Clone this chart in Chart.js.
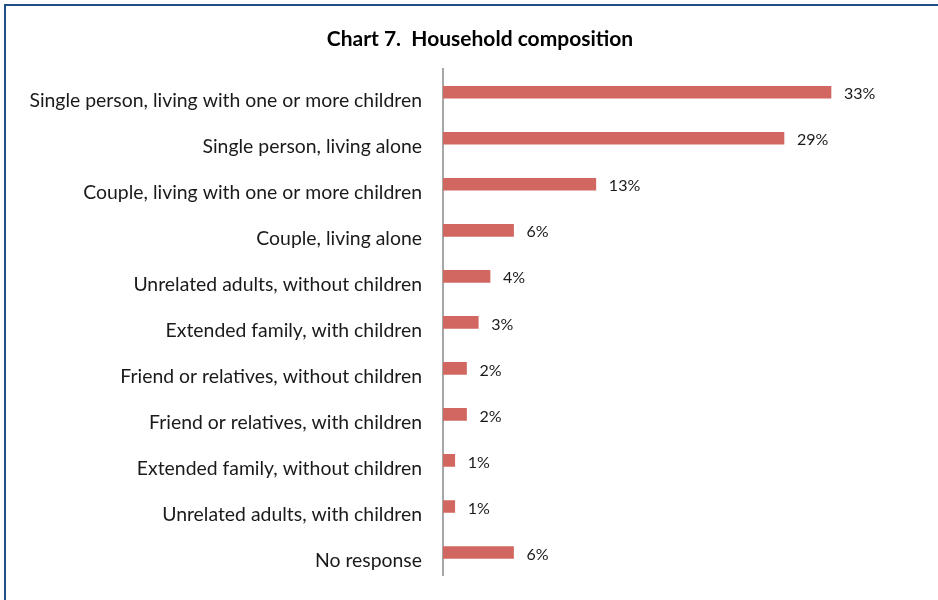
<!DOCTYPE html>
<html>
<head>
<meta charset="utf-8">
<script src="https://cdn.jsdelivr.net/npm/chart.js@4.4.1/dist/chart.umd.min.js"></script>
<style>
  html, body { margin: 0; padding: 0; background: #fff; overflow: hidden; width: 938px; height: 600px; }
  #topRule { position: absolute; left: 4px; top: 4px; width: 934px; height: 2px; background: #1f4e88; }
  #leftRule { position: absolute; left: 4px; top: 4px; width: 2px; height: 596px; background: #1f4e88; }
  #wrap { position: absolute; left: 0; top: 0; width: 938px; height: 600px; }
</style>
</head>
<body>
<div id="topRule"></div>
<div id="leftRule"></div>
<div id="wrap"><canvas id="householdChart"></canvas></div>
<script>
const categories = [
  'Single person, living with one or more children',
  'Single person, living alone',
  'Couple, living with one or more children',
  'Couple, living alone',
  'Unrelated adults, without children',
  'Extended family, with children',
  'Friend or relatives, without children',
  'Friend or relatives, with children',
  'Extended family, without children',
  'Unrelated adults, with children',
  'No response'
];
const shares = [33, 29, 13, 6, 4, 3, 2, 2, 1, 1, 6];
const chartTitle = 'Chart 7.  Household composition';

const fontFamily = 'Lato, "Open Sans", sans-serif';

// percentage text to the right of each bar
const barValueLabels = {
  id: 'barValueLabels',
  afterDatasetsDraw(chart) {
    const ctx = chart.ctx;
    const meta = chart.getDatasetMeta(0);
    ctx.save();
    ctx.font = '16px ' + fontFamily;
    ctx.fillStyle = '#1a1a1a';
    ctx.textBaseline = 'middle';
    ctx.textAlign = 'left';
    meta.data.forEach((bar, i) => {
      ctx.fillText(shares[i] + '%', bar.x + 13, bar.y + 2);
    });
    ctx.restore();
  }
};

new Chart(document.getElementById('householdChart'), {
  type: 'bar',
  data: {
    labels: categories,
    datasets: [{
      data: shares,
      backgroundColor: '#d16760',
      borderWidth: 0,
      barThickness: 12
    }]
  },
  options: {
    indexAxis: 'y',
    responsive: true,
    maintainAspectRatio: false,
    animation: false,
    layout: { padding: { left: 22, right: 0, top: 0, bottom: 24.5 } },
    plugins: {
      legend: { display: false },
      tooltip: { enabled: false },
      title: {
        display: true,
        text: chartTitle,
        color: '#000',
        font: { family: fontFamily, size: 21, weight: 'bold' },
        padding: { top: 27, bottom: 17 }
      }
    },
    scales: {
      x: {
        display: false,
        min: 0,
        max: 42.1
      },
      y: {
        afterFit(scale) { scale.width = 421; },
        // invisible tick marks keep the labels clear of the axis line
        grid: { display: true, drawOnChartArea: false, drawTicks: true, tickLength: 21, tickColor: 'rgba(0,0,0,0)' },
        border: { display: true, color: '#a6a6a6', width: 2 },
        ticks: {
          color: '#1a1a1a',
          padding: 0,
          labelOffset: 8.5,
          font: { family: fontFamily, size: 19.4 }
        }
      }
    }
  },
  plugins: [barValueLabels]
});
</script>
</body>
</html>
